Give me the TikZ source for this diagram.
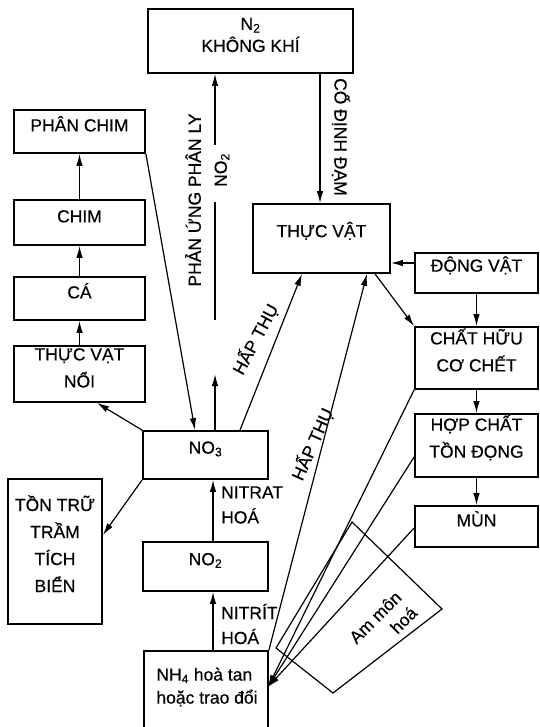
\documentclass[tikz,border=0pt]{standalone}
\usepackage{fontspec}
\setmainfont{Liberation Sans}[FakeBold=0.4]
\usetikzlibrary{fit,calc,arrows.meta}
\begin{document}
\begin{tikzpicture}[x=1pt,y=-1pt,
  box/.style={draw, line width=1.8pt, inner sep=0pt, align=center, font=\fontsize{17.5}{27}\selectfont},
  con/.style={line width=1.2pt},
  arr/.style={con, -{Latex[length=12pt,width=6.5pt]}},
  lab/.style={font=\fontsize{17.5}{25}\selectfont, inner sep=0pt, align=left}]
\useasboundingbox (0,0) rectangle (539,727);
% boxes
\node[box, fit={(148,9)(353,73)}, font=\fontsize{17.5}{22}\selectfont] (n2) {N\textsubscript{2}\\KHÔNG KHÍ};
\node[box, fit={(14,110)(145,153)}] (phan) {PHÂN CHIM};
\node[box, fit={(14,200)(145,245)}] (chim) {CHIM};
\node[box, fit={(14,277)(145,320)}] (ca) {CÁ};
\node[box, fit={(14,346)(145,402)}] (vnoi) {THỰC VẬT\\NỔI};
\node[box, fit={(143,431)(268,479)}] (no3) {NO\textsubscript{3}};
\node[box, fit={(8,479)(102,624)}] (ton) {TỒN TRỮ\\TRẦM\\TÍCH\\BIỂN};
\node[box, fit={(143,542)(268,591)}] (no2) {NO\textsubscript{2}};
\node[box, fit={(144,651)(268,740)}] (nh4) {};
\node[lab, font=\fontsize{17.5}{23}\selectfont] (nh4t) at (207,687) {NH\textsubscript{4} hoà tan\\hoặc trao đổi};
\node[box, fit={(253,204)(390,273)}] (tv) {THỰC VẬT\hspace*{14pt}};
\node[box, fit={(415,253)(538,293)}] (dv) {ĐỘNG VẬT};
\node[box, fit={(415,327)(538,389)}] (chc) {CHẤT HỮU\\CƠ CHẾT};
\node[box, fit={(415,414)(538,477)}] (hop) {HỢP CHẤT\\TỒN ĐỌNG};
\node[box, fit={(415,506)(538,547)}] (mun) {MÙN};
% coordinates
\coordinate (pa) at (215,145);
\coordinate (pb) at (215,202);
\coordinate (pc) at (215,320);
\coordinate (nhin) at (268,687);
% labels
\node[lab, rotate=90] (pu) at (193,200) {PHẢN ỨNG PHÂN LY};
\node[lab, rotate=90] (no2l) at (222,170) {NO\textsubscript{2}};
\node[lab, rotate=-90] (cd) at (341,137) {CỐ ĐỊNH ĐẠM};
\node[lab, rotate=62] (ht1) at (255,339) {HẤP THỤ};
\node[lab, rotate=66] (ht2) at (312,444) {HẤP THỤ};
\node[lab, anchor=west] (nitrat) at (221,505) {NITRAT\\HOÁ};
\node[lab, anchor=west] (nitrit) at (221,624) {NITRÍT\\HOÁ};
\node[lab, rotate=45, align=right, font=\fontsize{17.5}{22}\selectfont] (am) at (383,625) {Am môn\\hoá};
% left column
\draw[arr] (vnoi.north) -- (ca.south);
\draw[arr] (ca.north) -- (chim.south);
\draw[arr] (chim.north) -- (phan.south);
\draw[arr] (phan.south east) -- ([xshift=-10.5pt]no3.north);
\draw[arr] (no3.north west) -- ([xshift=17.5pt]vnoi.south);
\draw[arr] (no3.south west) -- ([yshift=16.5pt]ton.east);
\draw[arr] ([xshift=9.5pt]no3.north) -- ++(0,-56);
% dissociation
\draw[arr] (pa) -- (pa |- n2.south);
\draw[con] (pb) -- (pc);
% center column
\draw[arr] ([xshift=7.5pt]no2.north) -- ([xshift=7.5pt]no3.south);
\draw[arr] ([xshift=7pt]nh4.north) -- ([xshift=7.5pt]no2.north |- no2.south);
\draw[arr] ([xshift=34.5pt]no3.north) -- ([xshift=-19.5pt]tv.south);
\draw[arr] (nh4.north east) -- ([xshift=45.5pt]tv.south);
\draw[arr] ([xshift=-1.5pt]tv.north |- n2.south) -- ([xshift=-1.5pt]tv.north);
% right column
\draw[arr] ([yshift=10pt]dv.west) -- ([yshift=10pt]dv.west -| tv.east);
\draw[arr] ([xshift=53.5pt]tv.south) -- (chc.north west);
\draw[arr] (dv.south) -- (chc.north);
\draw[arr] (chc.south) -- (hop.north);
\draw[arr] (hop.south) -- (mun.north);
% ammonification
\draw[arr] (chc.south west) -- (nhin);
\draw[arr] ([yshift=-11.5pt]hop.west) -- (nhin);
\draw[arr] ([yshift=-1.5pt]mun.west) -- (nhin);
\draw[con] (276,648) -- (352,522) -- (442,609) -- (333,693) -- cycle;
\end{tikzpicture}
\end{document}
